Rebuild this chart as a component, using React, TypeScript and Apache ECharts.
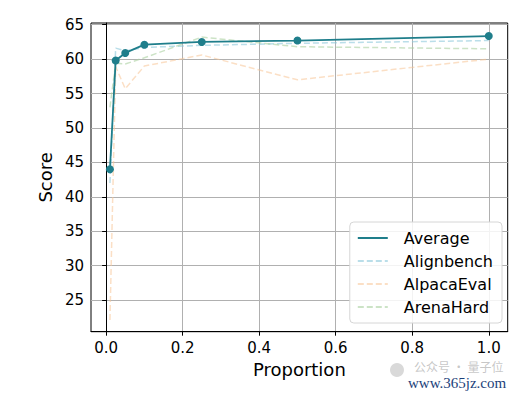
import React, { useEffect, useRef } from "react";
import * as echarts from "echarts";

const proportions = [0.01, 0.025, 0.05, 0.1, 0.25, 0.5, 1.0];
const averageScores = [44.0, 59.8, 60.9, 62.1, 62.5, 62.7, 63.35];
const alignbenchScores = [42.0, 61.6, 61.2, 61.7, 62.0, 62.3, 62.7];
const alpacaEvalScores = [22.1, 58.9, 55.7, 59.0, 60.6, 57.0, 60.0];
const arenaHardScores = [53.0, 59.4, 59.3, 60.2, 63.2, 61.8, 61.5];

const xTicks = [0, 0.2, 0.4, 0.6, 0.8, 1.0];
const yTicks = [25, 30, 35, 40, 45, 50, 55, 60, 65];

const FONT = "DejaVu Sans";

export default function App() {
  const ref = useRef<HTMLDivElement>(null);
  useEffect(() => {
    if (!ref.current) return;
    const chart = echarts.init(ref.current, null, { renderer: "svg" });
    const pair = (ys: number[]) => proportions.map((x, i) => [x, ys[i]]);
    const dashed = (name: string, ys: number[], color: string) => ({
      name,
      type: "line",
      data: pair(ys),
      symbol: "none",
      z: 1,
      lineStyle: { color, width: 1.5, type: [6, 3] },
      itemStyle: { color },
    });
    chart.setOption({
      animation: false,
      backgroundColor: "#ffffff",
      textStyle: { fontFamily: FONT },
      grid: {
        left: 91,
        right: 22.3,
        top: 23,
        bottom: 62.3,
        show: true,
        borderColor: "#000000",
        borderWidth: 1,
        backgroundColor: "transparent",
        containLabel: false,
      },
      xAxis: {
        type: "value",
        min: -0.0395,
        max: 1.0495,
        name: "Proportion",
        nameLocation: "middle",
        nameGap: 27,
        nameTextStyle: { fontSize: 18, color: "#000", fontFamily: FONT },
        axisLine: { show: true, lineStyle: { color: "#000", width: 1 } },
        axisTick: {
          show: true,
          length: 4,
          lineStyle: { color: "#000", width: 1 },
          customValues: xTicks,
        },
        axisLabel: {
          customValues: xTicks,
          fontSize: 15,
          color: "#000",
          margin: 9,
          fontFamily: FONT,
          formatter: (v: number) => v.toFixed(1),
        },
        splitLine: { show: true, lineStyle: { color: "#b0b0b0", width: 1 } },
      },
      yAxis: {
        type: "value",
        min: 20.4,
        max: 65.25,
        name: "Score",
        nameLocation: "middle",
        nameGap: 35,
        nameTextStyle: { fontSize: 18, color: "#000", fontFamily: FONT },
        axisLine: { show: true, lineStyle: { color: "#000", width: 1 } },
        axisTick: {
          show: true,
          length: 4,
          lineStyle: { color: "#000", width: 1 },
          customValues: yTicks,
        },
        axisLabel: {
          customValues: yTicks,
          fontSize: 15,
          color: "#000",
          margin: 7,
          fontFamily: FONT,
          formatter: (v: number) => String(Math.round(v)),
        },
        splitLine: { show: true, lineStyle: { color: "#b0b0b0", width: 1 } },
      },
      legend: {
        orient: "vertical",
        right: 28,
        bottom: 71,
        itemWidth: 30,
        itemHeight: 14,
        itemGap: 7,
        padding: [8, 9, 8, 7],
        backgroundColor: "rgba(255,255,255,0.85)",
        borderColor: "#d6d6d6",
        borderWidth: 1,
        borderRadius: 4,
        textStyle: { fontSize: 16, color: "#000", fontFamily: FONT, padding: [0, 0, 0, 11] },
        data: [
          { name: "Average", itemStyle: { opacity: 0 } },
          { name: "Alignbench", itemStyle: { opacity: 0 } },
          { name: "AlpacaEval", itemStyle: { opacity: 0 } },
          { name: "ArenaHard", itemStyle: { opacity: 0 } },
        ],
      },
      series: [
        dashed("Alignbench", alignbenchScores, "rgba(140,200,218,0.6)"),
        dashed("AlpacaEval", alpacaEvalScores, "rgba(247,196,150,0.55)"),
        dashed("ArenaHard", arenaHardScores, "rgba(170,208,160,0.6)"),
        {
          name: "Average",
          type: "line",
          data: pair(averageScores),
          symbol: "circle",
          symbolSize: 8,
          z: 3,
          lineStyle: { color: "#1f7e8b", width: 1.8 },
          itemStyle: { color: "#1f7e8b" },
        },
      ],
      graphic: [
        {
          type: "circle",
          shape: { cx: 397, cy: 370, r: 7 },
          style: { fill: "rgba(170,170,170,0.45)" },
        },
        {
          type: "text",
          left: 414,
          top: 360,
          style: {
            text: "公众号 · 量子位",
            fill: "rgba(150,150,150,0.55)",
            font: '12px "Noto Sans CJK SC"',
          },
        },
        {
          type: "text",
          left: 408,
          top: 375,
          style: {
            text: "www.365jz.com",
            fill: "#1c3f7a",
            font: '15px "Liberation Serif"',
          },
        },
      ],
    });
    return () => chart.dispose();
  }, []);
  return (
    <div
      ref={ref}
      style={{ position: "fixed", left: 0, top: 0, width: 530, height: 394, background: "#fff" }}
    />
  );
}
